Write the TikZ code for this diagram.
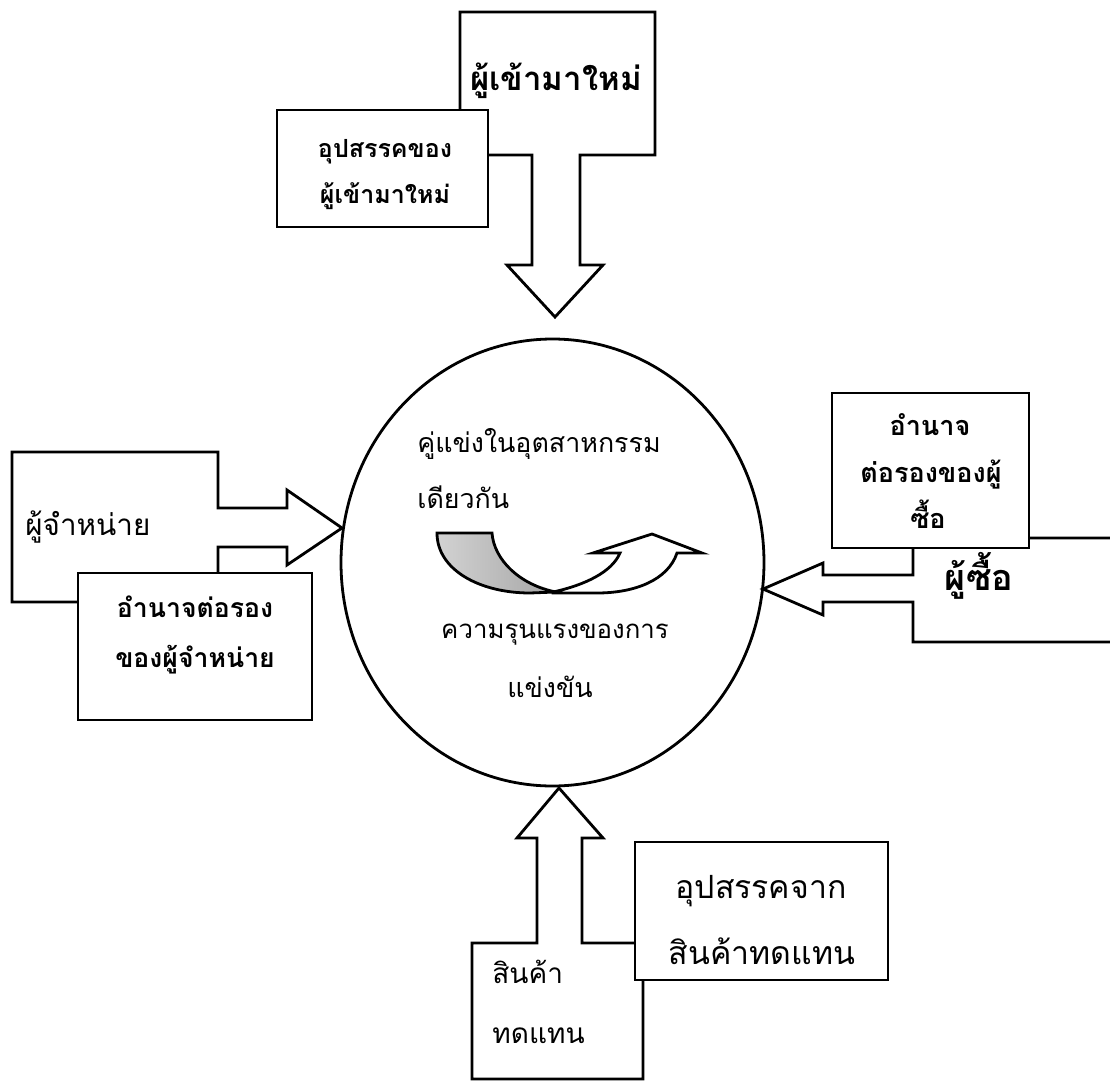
\documentclass[tikz,border=0pt]{standalone}
\usepackage{fontspec}
\newfontfamily\thaifont[Script=Thai]{Loma}
\usetikzlibrary{shapes.geometric}
\tikzset{
  x=0.5pt, y=-0.5pt,
  outl/.style={draw=black, line width=1.4pt, fill=white, line join=miter},
  lbl/.style={inner sep=0pt, anchor=base, font=\thaifont},
  lblw/.style={inner sep=0pt, anchor=base west, font=\thaifont},
  sz/.style={font=\thaifont\fontsize{#1}{#1}\selectfont},
  bsz/.style={font=\thaifont\bfseries\fontsize{#1}{#1}\selectfont},
}
\begin{document}
\begin{tikzpicture}
\clip (0,0) rectangle (1110,1082);
\fill[white] (0,0) rectangle (1110,1082);

% central circle
\node[draw, line width=1.4pt, ellipse, minimum width=211.5pt, minimum height=223.5pt, inner sep=0pt] (core) at (552.5,562.5) {};

% top: new entrants
\draw[outl] (460,12) -- (655,12) -- (655,155) -- (580,155) -- (580,265) -- (603,265)
  -- (555,317) -- (507,265) -- (532,265) -- (532,155) -- (460,155) -- cycle;
\draw[outl] (277,110) rectangle (488,227);
\node[lbl, bsz=16.5] (newent) at (556,90) {ผู้เข้ามาใหม่};
\node[lbl, bsz=12.5] (barr1a) at (385,157) {อุปสรรคของ};
\node[lbl, bsz=12.5] (barr1b) at (385,203) {ผู้เข้ามาใหม่};

% left: suppliers
\draw[outl] (12,452) -- (218,452) -- (218,508) -- (287,508) -- (287,490) -- (342,528)
  -- (287,565) -- (287,547) -- (218,547) -- (218,602) -- (12,602) -- cycle;
\draw[outl] (78,573) rectangle (312,720);
\node[lblw, sz=14.8] (supp) at (25,535) {ผู้จำหน่าย};
\node[lbl, bsz=13.3] (supa) at (195,617) {อำนาจต่อรอง};
\node[lbl, bsz=13.3] (supb) at (195,667) {ของผู้จำหน่าย};

% right: buyers
\draw[outl] (1120,538) -- (913,538) -- (913,575) -- (823,575) -- (823,563) -- (763,589)
  -- (823,615) -- (823,602) -- (913,602) -- (913,642) -- (1120,642);
\draw[outl] (832,393) rectangle (1029,548);
\node[lbl, bsz=13.5] (buya) at (930,435) {อำนาจ};
\node[lbl, bsz=13.5] (buyb) at (931,482) {ต่อรองของผู้};
\node[lbl, bsz=13.5] (buyc) at (928,528) {ซื้อ};
\node[lbl, bsz=18] (buyer) at (979,590) {ผู้ซื้อ};

% bottom: substitutes
\draw[outl] (472,1079) -- (472,943) -- (537,943) -- (537,838) -- (517,838) -- (559,788)
  -- (603,838) -- (582,838) -- (582,943) -- (643,943) -- (643,1079) -- cycle;
\draw[outl] (635,842) rectangle (888,980);
\node[lbl, sz=16] (suba) at (761,898) {อุปสรรคจาก};
\node[lbl, sz=16] (subb) at (762,964) {สินค้าทดแทน};
\node[lblw, sz=14] (subst1) at (492,983) {สินค้า};
\node[lblw, sz=14] (subst2) at (492,1043) {ทดแทน};

% inside circle
\node[lblw, sz=13.4] (riv1) at (417,452) {คู่แข่งในอุตสาหกรรม};
\node[lblw, sz=13.4] (riv2) at (417,508) {เดียวกัน};
\node[lbl, sz=12.9] (int1) at (555,638) {ความรุนแรงของการ};
\node[lbl, sz=13.4] (int2) at (550,697) {แข่งขัน};

% curved arrow
\draw[outl] (553,592) .. controls (585,585) and (612,572) .. (620,553) -- (593,553)
  -- (652,534) -- (702,553) -- (677,553) .. controls (668,580) and (635,593) .. (597,593)
  -- (553,593) -- cycle;
\draw[line width=1.4pt, line join=miter, left color=gray!35, right color=gray!70]
  (437,533) -- (492,533) .. controls (494,560) and (520,585) .. (556,592)
  -- (530,593) .. controls (480,593) and (437,570) .. (437,533) -- cycle;
\end{tikzpicture}
\end{document}
